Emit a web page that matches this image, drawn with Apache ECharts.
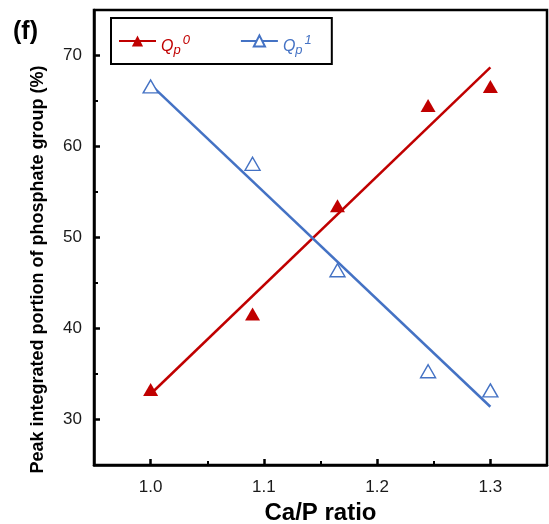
<!DOCTYPE html>
<html>
<head>
<meta charset="utf-8">
<script src="https://cdn.jsdelivr.net/npm/echarts@6/dist/echarts.min.js"></script>
<style>
html,body{margin:0;padding:0;background:#fff;}
#chart{width:549px;height:524px;}
</style>
</head>
<body>
<div id="chart"></div>
<script>
// ---- data ----
var caP = [1.0, 1.09, 1.165, 1.245, 1.3];
var qp0 = [33.3, 41.6, 53.5, 64.5, 66.6];
var qp1 = [66.6, 58.1, 46.4, 35.3, 33.2];
var fitX = [1.0, 1.3];
var qp0Fit = [32.8, 68.7];
var qp1Fit = [66.8, 31.4];
var xTicks = [1.0, 1.1, 1.2, 1.3];
var xMinorTicks = [1.05, 1.15, 1.25];
var yTicks = [30, 40, 50, 60, 70];
var yMinorTicks = [35, 45, 55, 65];
var xTitle = 'Ca/P ratio';
var yTitle = 'Peak integrated portion of phosphate group (%)';
var panelLabel = '(f)';

function pairs(xs, ys) { return xs.map(function (x, i) { return [x, ys[i]]; }); }

var RED = '#C00000', BLUE = '#4472C4';
var FONT = 'Liberation Sans, Arial, Helvetica, sans-serif';

var chart = echarts.init(document.getElementById('chart'), null, {renderer: 'canvas'});

var axisCommon = {
  type: 'value',
  axisLine: {show: true, onZero: false, lineStyle: {color: '#000', width: 2.5}},
  splitLine: {show: false}
};

function richSet(color, prefix) {
  var r = {};
  r[prefix + 'q'] = {color: color, fontSize: 16, fontStyle: 'italic', fontFamily: FONT, lineHeight: 20, height: 9, verticalAlign: 'bottom'};
  r[prefix + 's'] = {color: color, fontSize: 13, fontStyle: 'italic', fontFamily: FONT, lineHeight: 20, height: 1, verticalAlign: 'bottom'};
  r[prefix + 'p'] = {color: color, fontSize: 13, fontStyle: 'italic', fontFamily: FONT, lineHeight: 20, height: 19, verticalAlign: 'top', padding: [0, 0, 0, 2]};
  return r;
}
var rich = Object.assign({}, richSet(RED, 'r'), richSet(BLUE, 'b'));

var option = {
  animation: false,
  backgroundColor: '#fff',
  title: {
    text: panelLabel, left: 8, top: 15,
    textStyle: {fontFamily: FONT, fontSize: 25, fontWeight: 'bold', color: '#000'}
  },
  grid: {left: 94, right: 2, top: 10, bottom: 59, show: true, borderColor: '#000', borderWidth: 2.5,
    containLabel: false, outerBoundsMode: 'none'},
  legend: {
    data: ['Qp0', 'Qp1'],
    left: 111, top: 18,
    orient: 'horizontal',
    itemWidth: 37, itemHeight: 14, itemGap: 50,
    padding: [13, 20, 7, 7],
    borderColor: '#000', borderWidth: 2,
    formatter: function (name) {
      if (name === 'Qp0') return '{rq|Q}{rs|p}{rp|0}';
      return '{bq|Q}{bs|p}{bp|1}';
    },
    textStyle: {
      fontFamily: FONT,
      lineHeight: 20,
      rich: rich
    }
  },
  xAxis: [
    Object.assign({}, axisCommon, {
      min: 0.95, max: 1.35, position: 'bottom',
      name: xTitle, nameLocation: 'middle', nameGap: 35,
      nameTextStyle: {fontFamily: FONT, fontSize: 24, fontWeight: 'bold', color: '#000'},
      axisTick: {show: true, inside: true, length: 6, lineStyle: {color: '#000', width: 2.5}, customValues: xTicks},
      axisLabel: {show: true, margin: 14, fontFamily: FONT, fontSize: 17, color: '#1a1a1a', customValues: xTicks,
        formatter: function (v) { return Number(v).toFixed(1); }}
    }),
    Object.assign({}, axisCommon, {
      min: 0.95, max: 1.35, position: 'bottom',
      axisLine: {show: false},
      axisTick: {show: true, inside: true, length: 4, lineStyle: {color: '#000', width: 2}, customValues: xMinorTicks},
      axisLabel: {show: false}
    })
  ],
  yAxis: [
    Object.assign({}, axisCommon, {
      min: 25, max: 75, position: 'left',
      axisTick: {show: true, inside: true, length: 6, lineStyle: {color: '#000', width: 2.5}, customValues: yTicks},
      axisLabel: {show: true, margin: 12, fontFamily: FONT, fontSize: 17, color: '#1a1a1a', customValues: yTicks}
    }),
    Object.assign({}, axisCommon, {
      min: 25, max: 75, position: 'left',
      axisLine: {show: false},
      axisTick: {show: true, inside: true, length: 4, lineStyle: {color: '#000', width: 2}, customValues: yMinorTicks},
      axisLabel: {show: false}
    })
  ],
  graphic: [{
    type: 'text',
    x: 38.5, y: 269.5,
    rotation: Math.PI / 2,
    style: {
      text: yTitle,
      fontFamily: FONT, fontSize: 18, fontWeight: 'bold', fill: '#000',
      align: 'center', verticalAlign: 'middle',
      textAlign: 'center', textVerticalAlign: 'middle'
    }
  }],
  series: [
    {
      name: 'Qp0', type: 'line', data: pairs(fitX, qp0Fit),
      symbol: 'triangle', showSymbol: false,
      itemStyle: {color: RED},
      lineStyle: {color: RED, width: 2.5}, z: 2
    },
    {
      name: 'Qp1', type: 'line', data: pairs(fitX, qp1Fit),
      symbol: 'emptyTriangle', showSymbol: false,
      itemStyle: {color: BLUE},
      lineStyle: {color: BLUE, width: 2.5}, z: 2
    },
    {
      name: 'Qp0 points', type: 'scatter', data: pairs(caP, qp0),
      symbol: 'triangle', symbolSize: [15, 13],
      itemStyle: {color: RED, opacity: 1}, z: 3
    },
    {
      name: 'Qp1 points', type: 'scatter', data: pairs(caP, qp1),
      symbol: 'triangle', symbolSize: [15, 13],
      itemStyle: {color: '#fff', borderColor: BLUE, borderWidth: 1.4, opacity: 1}, z: 3
    }
  ]
};
chart.setOption(option);
</script>
</body>
</html>
